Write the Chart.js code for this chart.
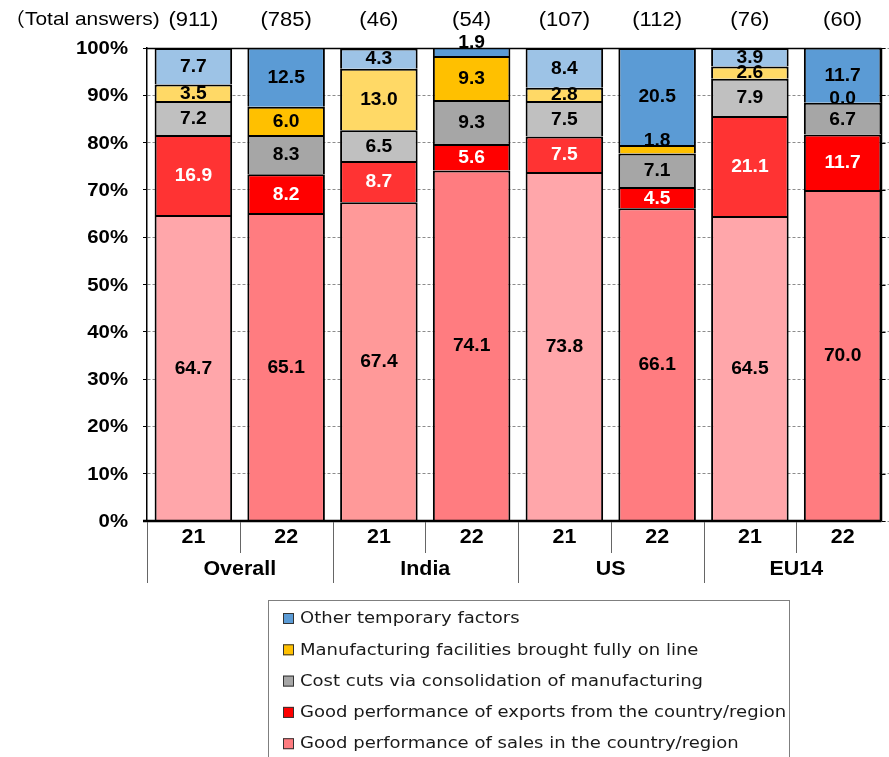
<!DOCTYPE html>
<html>
<head>
<meta charset="utf-8">
<script src="https://cdn.jsdelivr.net/npm/chart.js@4/dist/chart.umd.min.js"></script>
<style>
  html, body { margin: 0; padding: 0; background: #fff; }
  #wrap { width: 889px; height: 757px; position: relative; }
</style>
</head>
<body>
<div id="wrap"><canvas id="chart"></canvas></div>
<script>
// survey years and country groups
const years = ["21", "22", "21", "22", "21", "22", "21", "22"];
const groups = ["Overall", "India", "US", "EU14"];
const totalAnswers = [911, 785, 46, 54, 107, 112, 76, 60];

// shares (%) per reason, bottom of the stack first
const salesDomestic = [64.7, 65.1, 67.4, 74.1, 73.8, 66.1, 64.5, 70.0];
const exportsGood = [16.9, 8.2, 8.7, 5.6, 7.5, 4.5, 21.1, 11.7];
const costCuts = [7.2, 8.3, 6.5, 9.3, 7.5, 7.1, 7.9, 6.7];
const facilitiesOnline = [3.5, 6.0, 13.0, 9.3, 2.8, 1.8, 2.6, 0.0];
const otherFactors = [7.7, 12.5, 4.3, 1.9, 8.4, 20.5, 3.9, 11.7];

const yTicks = [0, 10, 20, 30, 40, 50, 60, 70, 80, 90, 100];

// lighter shade for '21, full shade for '22
const pair = (a, b) => years.map(y => (y === "21" ? a : b));
const salesColors = pair("#FFA6AA", "#FF7C80");
salesColors[2] = "#FF9999";

const series = [
  { label: "Good performance of sales in the country/region", data: salesDomestic, colors: salesColors, key: "#FF7C80", text: "#000" },
  { label: "Good performance of exports from the country/region", data: exportsGood, colors: pair("#FF3333", "#FF0000"), key: "#FF0000", text: "#fff" },
  { label: "Cost cuts via consolidation of manufacturing", data: costCuts, colors: pair("#C0C0C0", "#A6A6A6"), key: "#A6A6A6", text: "#000" },
  { label: "Manufacturing facilities brought fully on line", data: facilitiesOnline, colors: pair("#FFD966", "#FFC000"), key: "#FFC000", text: "#000" },
  { label: "Other temporary factors", data: otherFactors, colors: pair("#9DC3E6", "#5B9BD5"), key: "#5B9BD5", text: "#000" }
];

const FONT = '"Liberation Sans", Arial, "Noto Sans CJK JP", sans-serif';
const SX = 1.1; // text is drawn slightly wide

function wideText(ctx, str, x, y, align) {
  ctx.save();
  ctx.translate(x, y);
  ctx.scale(SX, 1);
  ctx.textAlign = align || "center";
  ctx.fillText(str, 0, 0);
  ctx.restore();
}

// segment values written on the bars
const valueLabels = {
  id: "valueLabels",
  afterDatasetsDraw(chart) {
    const ctx = chart.ctx;
    ctx.save();
    ctx.font = "bold 17.5px " + FONT;
    ctx.textBaseline = "middle";
    chart.data.datasets.forEach((ds, di) => {
      const meta = chart.getDatasetMeta(di);
      meta.data.forEach((bar, i) => {
        const v = ds.data[i];
        const top = Math.min(bar.y, bar.base);
        let y = (bar.y + bar.base) / 2 + 1;
        // thin slices get their number just above the slice
        if (v < 2) y = top - 4;
        ctx.fillStyle = series[di].text;
        wideText(ctx, v.toFixed(1), bar.x, y);
      });
    });
    ctx.restore();
  }
};

// frame, axis labels, answer counts and legend box
const decorations = {
  id: "decorations",
  afterDraw(chart) {
    const ctx = chart.ctx;
    const area = chart.chartArea;
    const x = chart.scales.x;
    const y = chart.scales.y;
    const last = chart.getDatasetMeta(0).data[years.length - 1];
    const right = Math.round(last.x + last.width / 2) + 0.5;
    const half = (x.getPixelForValue(1) - x.getPixelForValue(0)) / 2;

    ctx.save();
    ctx.strokeStyle = "#000";
    ctx.lineWidth = 1.5;
    ctx.beginPath();
    ctx.moveTo(area.left, area.top + 0.5);
    ctx.lineTo(right, area.top + 0.5);
    ctx.moveTo(right, area.top);
    ctx.lineTo(right, area.bottom);
    ctx.stroke();
    ctx.lineWidth = 1;
    ctx.beginPath();
    yTicks.forEach(t => {
      const py = Math.round(y.getPixelForValue(t)) + 0.5;
      ctx.moveTo(right, py);
      ctx.lineTo(right + 4, py);
    });
    ctx.stroke();

    ctx.lineWidth = 2.5;
    ctx.beginPath();
    ctx.moveTo(area.left - 4, area.bottom);
    ctx.lineTo(right, area.bottom);
    ctx.stroke();

    // percent labels on the value axis
    ctx.fillStyle = "#000";
    ctx.textBaseline = "middle";
    ctx.font = "bold 18.5px " + FONT;
    yTicks.forEach(t => {
      wideText(ctx, t + "%", area.left - 19, y.getPixelForValue(t) + 1, "right");
    });

    // year / group separators under the axis
    ctx.strokeStyle = "#666";
    ctx.lineWidth = 1;
    ctx.beginPath();
    years.forEach((yr, i) => {
      const bx = Math.round(x.getPixelForValue(i) - half) + 0.5;
      ctx.moveTo(bx, area.bottom + 1);
      ctx.lineTo(bx, area.bottom + (i % 2 === 0 ? 62 : 32));
    });
    ctx.stroke();

    ctx.font = "bold 19.5px " + FONT;
    years.forEach((yr, i) => {
      wideText(ctx, yr, x.getPixelForValue(i), area.bottom + 17);
    });
    groups.forEach((g, gi) => {
      wideText(ctx, g, x.getPixelForValue(gi * 2) + half, area.bottom + 49);
    });

    // number of answers above each bar
    ctx.font = "20px " + FONT;
    totalAnswers.forEach((n, i) => {
      wideText(ctx, "(" + n + ")", x.getPixelForValue(i), 20);
    });
    ctx.font = '19px "Noto Sans CJK JP", sans-serif';
    wideText(ctx, "（", 4, 20, "left");
    ctx.font = "19px " + FONT;
    wideText(ctx, "Total answers)", 25, 20, "left");

    // legend, top entry is the top of the stack
    const lx = 268, ly = 600, lw = 521;
    ctx.strokeStyle = "#7f7f7f";
    ctx.strokeRect(lx + 0.5, ly + 0.5, lw, 170);
    ctx.font = '16.4px "DejaVu Sans", sans-serif';
    series.slice().reverse().forEach((s, k) => {
      const cy = ly + 18 + k * 31.3;
      ctx.fillStyle = s.key;
      ctx.fillRect(lx + 15, cy - 5, 11, 11);
      ctx.strokeStyle = "#333";
      ctx.strokeRect(lx + 15.5, cy - 4.5, 10, 10);
      ctx.fillStyle = "#1a1a1a";
      wideText(ctx, s.label, lx + 32, cy + 1, "left");
    });
    ctx.restore();
  }
};

new Chart(document.getElementById("chart"), {
  type: "bar",
  data: {
    labels: years,
    datasets: series.map(s => ({
      label: s.label,
      data: s.data,
      backgroundColor: s.colors,
      borderColor: "#000",
      borderWidth: 2,
      barPercentage: 0.836,
      categoryPercentage: 1
    }))
  },
  options: {
    responsive: true,
    maintainAspectRatio: false,
    animation: false,
    layout: { padding: { top: 48, right: -4, bottom: 236, left: 0 } },
    plugins: { legend: { display: false }, tooltip: { enabled: false } },
    scales: {
      x: { stacked: true, display: false },
      y: {
        stacked: true,
        min: 0,
        max: 100,
        afterFit(scale) { scale.width = 147; },
        afterBuildTicks(scale) { scale.ticks = yTicks.map(v => ({ value: v })); },
        ticks: { display: false },
        grid: { color: "#8c8c8c", tickColor: "#000", tickLength: 4, lineWidth: 1 },
        border: { display: true, color: "#000", width: 1.5, dash: [3, 2] }
      }
    }
  },
  plugins: [valueLabels, decorations]
});
</script>
</body>
</html>
